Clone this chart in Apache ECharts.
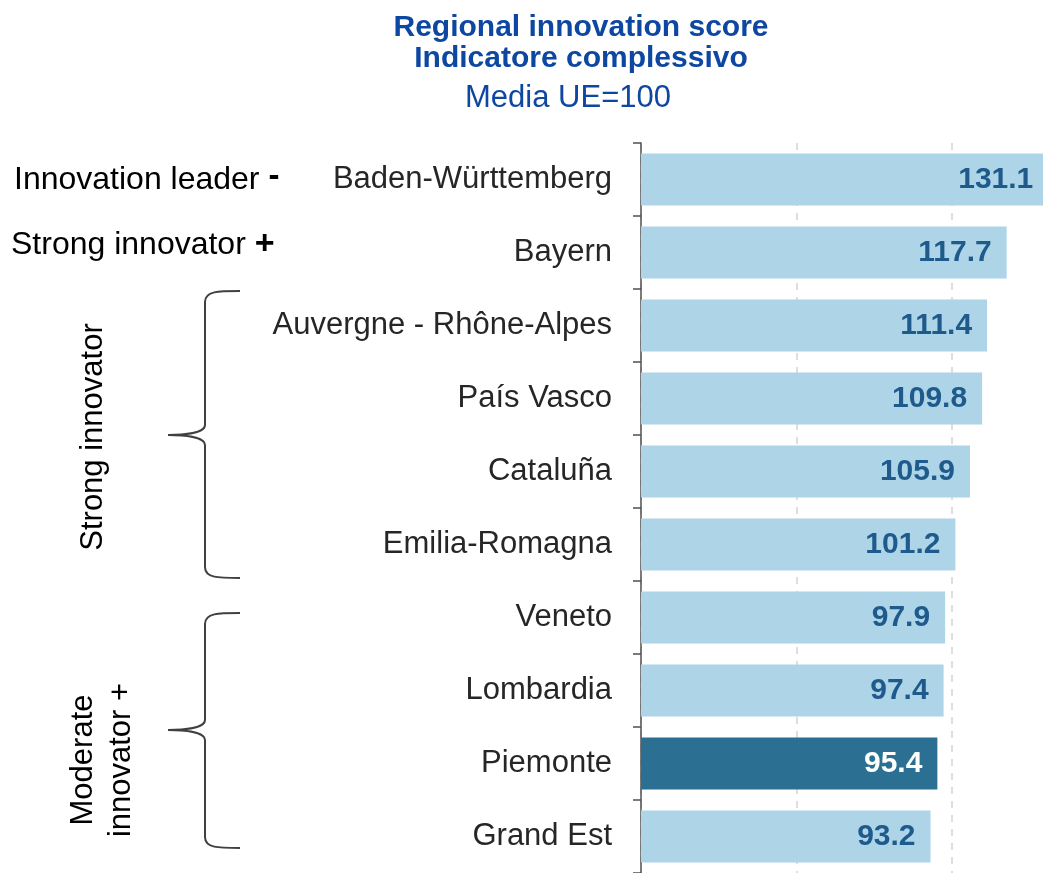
<!DOCTYPE html>
<html>
<head>
<meta charset="utf-8">
<script src="https://cdn.jsdelivr.net/npm/echarts@6/dist/echarts.min.js"></script>
<style>
  html, body { margin: 0; padding: 0; background: #ffffff; }
  #chart { width: 1043px; height: 873px; }
</style>
</head>
<body>
<div id="chart"></div>
<script>
// Regions ranked by regional innovation score (EU average = 100)
const regions = [
  'Baden-Württemberg', 'Bayern', 'Auvergne - Rhône-Alpes', 'País Vasco', 'Cataluña',
  'Emilia-Romagna', 'Veneto', 'Lombardia', 'Piemonte', 'Grand Est'
];
const scores = [131.1, 117.7, 111.4, 109.8, 105.9, 101.2, 97.9, 97.4, 95.4, 93.2];
const highlighted = 'Piemonte';

const titleLines = ['Regional innovation score', 'Indicatore complessivo'];
const subtitle = 'Media UE=100';

const LIGHT = '#AED4E7';
const DARK = '#2B7092';
const VALUE_TXT = '#1F5A8C';
const TITLE_TXT = '#0D47A1';
const FONT = 'Liberation Sans, Arial, Helvetica, sans-serif';

const chart = echarts.init(document.getElementById('chart'), null, { renderer: 'canvas' });

const barData = regions.map((name, i) => {
  const hi = name === highlighted;
  return {
    value: scores[i],
    itemStyle: { color: hi ? DARK : LIGHT },
    label: { color: hi ? '#ffffff' : VALUE_TXT }
  };
});

// Curly brace grouping several rows, opening to the right, built from curves and lines
function brace(xTip, xSpine, xPoint, yTop, yMid, yBot) {
  const st = { stroke: '#404040', lineWidth: 2, fill: null };
  const curve = (x1, y1, cpx1, cpy1, cpx2, cpy2, x2, y2) => ({
    type: 'bezierCurve', shape: { x1, y1, cpx1, cpy1, cpx2, cpy2, x2, y2 }, style: st
  });
  const line = (x1, y1, x2, y2) => ({ type: 'line', shape: { x1, y1, x2, y2 }, style: st });
  return {
    type: 'group',
    children: [
      curve(xTip, yTop, xTip - 22, yTop, xSpine, yTop, xSpine, yTop + 11),
      line(xSpine, yTop + 11, xSpine, yMid - 10),
      curve(xSpine, yMid - 10, xSpine, yMid - 2, xPoint + 16, yMid, xPoint, yMid),
      curve(xPoint, yMid, xPoint + 16, yMid, xSpine, yMid + 2, xSpine, yMid + 10),
      line(xSpine, yMid + 10, xSpine, yBot - 11),
      curve(xSpine, yBot - 11, xSpine, yBot, xTip - 22, yBot, xTip, yBot)
    ]
  };
}

const sideText = { fontFamily: FONT, fontSize: 31, fill: '#000000' };

chart.setOption({
  animation: false,
  backgroundColor: '#ffffff',
  title: [
    {
      text: titleLines.join('\n'),
      left: 576, top: 7, textAlign: 'center',
      textStyle: { fontFamily: FONT, fontSize: 30, fontWeight: 'bold', color: TITLE_TXT, lineHeight: 31 }
    },
    {
      text: subtitle,
      left: 563, top: 78, textAlign: 'center',
      textStyle: { fontFamily: FONT, fontSize: 31, fontWeight: 'normal', color: TITLE_TXT, lineHeight: 31 }
    }
  ],
  // the value axis runs to 150, past the right edge of the canvas
  grid: {
    left: 641, top: 143, width: 466, height: 730,
    containLabel: false, outerBoundsMode: 'none'
  },
  xAxis: {
    type: 'value',
    min: 0, max: 150, interval: 50,
    axisLine: { show: false },
    axisTick: { show: false },
    axisLabel: { show: false },
    splitLine: { show: true, lineStyle: { color: '#D4D4D4', width: 1.5, type: [7, 7] } }
  },
  yAxis: {
    type: 'category',
    data: regions,
    inverse: true,
    axisLine: { show: true, lineStyle: { color: '#505050', width: 1.5 } },
    axisTick: { show: true, length: 8, lineStyle: { color: '#505050', width: 1.5 } },
    axisLabel: { margin: 29, fontFamily: FONT, fontSize: 31, color: '#262626' },
    splitLine: { show: false }
  },
  series: [{
    type: 'bar',
    data: barData,
    barWidth: 52,
    clip: false,
    label: {
      show: true,
      position: 'insideRight',
      distance: 15,
      fontFamily: FONT,
      fontSize: 30,
      fontWeight: 'bold',
      formatter: p => p.value.toFixed(1)
    }
  }],
  graphic: [
    {
      type: 'text', x: 14, y: 180,
      style: {
        text: '{a|Innovation leader }{b|-}',
        verticalAlign: 'middle',
        rich: {
          a: { fontFamily: FONT, fontSize: 32, color: '#000000' },
          b: { fontFamily: FONT, fontSize: 33, fontWeight: 'bold', color: '#000000', padding: [0, 0, 6, 0] }
        }
      }
    },
    {
      type: 'text', x: 11, y: 245,
      style: {
        text: '{a|Strong innovator }{b|+}',
        verticalAlign: 'middle',
        rich: {
          a: { fontFamily: FONT, fontSize: 32, color: '#000000' },
          b: { fontFamily: FONT, fontSize: 34, fontWeight: 'bold', color: '#000000' }
        }
      }
    },
    {
      type: 'text', x: 93, y: 437, rotation: Math.PI / 2,
      style: Object.assign({ text: 'Strong innovator', align: 'center', verticalAlign: 'middle' }, sideText)
    },
    {
      type: 'text', x: 102, y: 760, rotation: Math.PI / 2,
      style: Object.assign({ text: 'Moderate\ninnovator +', align: 'center', verticalAlign: 'middle', lineHeight: 38 }, sideText)
    },
    brace(240, 205, 168, 291, 435, 578),
    brace(240, 205, 168, 613, 730, 848)
  ]
});
</script>
</body>
</html>
